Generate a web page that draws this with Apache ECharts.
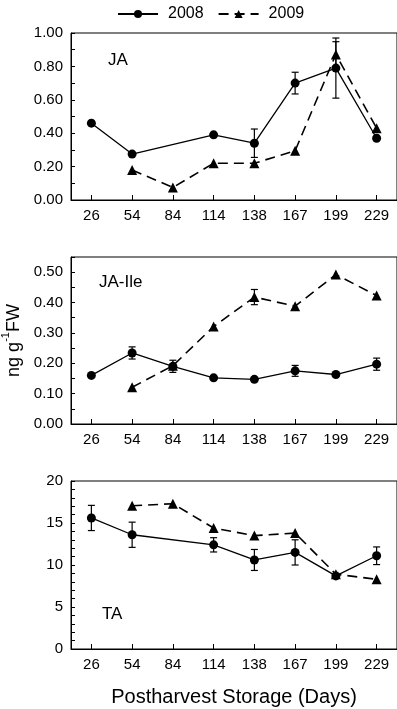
<!DOCTYPE html>
<html>
<head>
<meta charset="utf-8">
<script src="https://cdn.jsdelivr.net/npm/echarts@6/dist/echarts.min.js"></script>
<style>html,body{margin:0;padding:0;background:#fff;}#c{width:397px;height:709px;}</style>
</head>
<body>
<div id="c"></div>
<script>
var categories = ['26', '54', '84', '114', '138', '167', '199', '229'];

var JA2008 = [0.46, 0.275, null, 0.39, 0.34, 0.70, 0.79, 0.37];
var JA2009 = [null, 0.18, 0.075, 0.22, 0.22, 0.295, 0.872, 0.43];
var JAerr2008 = [0, 0, 0, 0, 0.085, 0.065, 0.18, 0];
var JAerr2009 = [0, 0, 0, 0, 0, 0, 0.076, 0];

var Ile2008 = [0.16, 0.234, 0.19, 0.152, 0.147, 0.175, 0.163, 0.197];
var Ile2009 = [null, 0.121, 0.192, 0.321, 0.418, 0.388, 0.492, 0.423];
var Ileerr2008 = [0, 0.02, 0.02, 0, 0, 0.018, 0, 0.02];
var Ileerr2009 = [0, 0, 0, 0, 0.025, 0, 0, 0];

var TA2008 = [15.6, 13.6, null, 12.4, 10.6, 11.5, 8.7, 11.1];
var TA2009 = [null, 17.05, 17.3, 14.4, 13.5, 13.8, 8.9, 8.3];
var TAerr2008 = [1.5, 1.5, 0, 0.85, 1.25, 1.5, 0, 1.05];
var TAerr2009 = [0, 0, 0, 0, 0, 0, 0, 0];

var yTicks = [
  {min: 0, max: 1, interval: 0.1, labelStep: 0.2, digits: 2},
  {min: 0, max: 0.55, interval: 0.05, labelStep: 0.1, digits: 2},
  {min: 0, max: 20, interval: 1, labelStep: 5, digits: 0}
];

var FONT = '"Liberation Sans", Arial, sans-serif';
var chart = echarts.init(document.getElementById('c'), null, {renderer: 'canvas'});

var grids = [
  {left: 71, right: 0, top: 33, height: 167},
  {left: 71, right: 0, top: 257, height: 167},
  {left: 71, right: 0, top: 481, height: 168}
];
grids.forEach(function (g) {
  g.show = true; g.borderColor = '#000'; g.borderWidth = 1; g.backgroundColor = 'transparent';
  g.containLabel = false; g.outerBoundsMode = 'none';
});

var xAxes = [], yAxes = [];
for (var i = 0; i < 3; i++) {
  var xa = {
    type: 'category', gridIndex: i, data: categories, boundaryGap: true,
    axisLine: {show: true, lineStyle: {color: '#000', width: 1}},
    axisTick: {show: true, inside: true, alignWithLabel: true, length: 5, lineStyle: {color: '#000'}},
    axisLabel: {color: '#000', fontSize: 15, fontFamily: FONT, margin: 8},
    splitLine: {show: false}
  };
  if (i === 2) {
    xa.name = 'Postharvest Storage (Days)';
    xa.nameLocation = 'middle';
    xa.nameGap = 38;
    xa.nameTextStyle = {color: '#000', fontSize: 20, fontFamily: FONT};
  }
  xAxes.push(xa);
  (function (t) {
    var ya = {
      type: 'value', gridIndex: i, min: t.min, max: t.max, interval: t.interval,
      axisLine: {show: true, lineStyle: {color: '#000', width: 1}},
      axisTick: {show: true, inside: true, length: 4, lineStyle: {color: '#000'}},
      axisLabel: {
        color: '#000', fontSize: 15, fontFamily: FONT, margin: 8,
        formatter: function (v) {
          var k = Math.round(v / t.labelStep * 1000) / 1000;
          if (Math.abs(k - Math.round(k)) > 1e-6) return '';
          return v.toFixed(t.digits);
        }
      },
      splitLine: {show: false}
    };
    if (i === 1) {
      ya.name = '{a|ng g}{s|-1}{a|FW}';
      ya.nameLocation = 'middle';
      ya.nameGap = 41;
      ya.nameTextStyle = {
        color: '#000', fontFamily: FONT,
        rich: {
          a: {fontSize: 18, fontFamily: FONT, color: '#000', lineHeight: 22, verticalAlign: 'bottom'},
          s: {fontSize: 11, fontFamily: FONT, color: '#000', lineHeight: 22, verticalAlign: 'top'}
        }
      };
    }
    yAxes.push(ya);
  })(yTicks[i]);
}

function errSeries(idx, means, errs) {
  var data = [];
  for (var j = 0; j < means.length; j++) {
    if (means[j] != null && errs[j]) data.push([j, means[j] - errs[j], means[j] + errs[j]]);
  }
  return {
    type: 'custom', xAxisIndex: idx, yAxisIndex: idx, z: 1, silent: true,
    data: data,
    renderItem: function (params, api) {
      var lo = api.coord([api.value(0), api.value(1)]);
      var hi = api.coord([api.value(0), api.value(2)]);
      var w = 3.5;
      var st = {stroke: '#000', lineWidth: 1.2};
      return {type: 'group', children: [
        {type: 'line', shape: {x1: lo[0], y1: lo[1], x2: hi[0], y2: hi[1]}, style: st},
        {type: 'line', shape: {x1: lo[0] - w, y1: lo[1], x2: lo[0] + w, y2: lo[1]}, style: st},
        {type: 'line', shape: {x1: hi[0] - w, y1: hi[1], x2: hi[0] + w, y2: hi[1]}, style: st}
      ]};
    }
  };
}

function lineSeries(idx, name, data) {
  var is08 = name === '2008';
  return {
    type: 'line', name: name, xAxisIndex: idx, yAxisIndex: idx, data: data,
    connectNulls: true, z: 3,
    symbol: is08 ? 'circle' : 'triangle',
    symbolSize: is08 ? 9 : 10,
    itemStyle: {color: '#000'},
    lineStyle: is08 ? {color: '#000', width: 1.3, type: 'solid'} : {color: '#000', width: 1.6, type: [10, 6]},
    emphasis: {disabled: true},
    animation: false
  };
}

var series = [
  lineSeries(0, '2008', JA2008), lineSeries(0, '2009', JA2009),
  errSeries(0, JA2008, JAerr2008), errSeries(0, JA2009, JAerr2009),
  lineSeries(1, '2008', Ile2008), lineSeries(1, '2009', Ile2009),
  errSeries(1, Ile2008, Ileerr2008), errSeries(1, Ile2009, Ileerr2009),
  lineSeries(2, '2008', TA2008), lineSeries(2, '2009', TA2009),
  errSeries(2, TA2008, TAerr2008), errSeries(2, TA2009, TAerr2009)
];

chart.setOption({
  animation: false,
  backgroundColor: '#fff',
  legend: {
    data: ['2008', '2009'], left: 112, top: 1,
    itemWidth: 40, itemHeight: 10, itemGap: 14,
    textStyle: {color: '#000', fontSize: 16, fontFamily: FONT, padding: [0, 0, 0, 5]},
    selectedMode: false
  },
  grid: grids,
  xAxis: xAxes,
  yAxis: yAxes,
  series: series,
  graphic: [
    {type: 'text', left: 108, top: 52, style: {text: 'JA', fontSize: 17, fontFamily: FONT, fill: '#000'}},
    {type: 'text', left: 99, top: 274, style: {text: 'JA-Ile', fontSize: 17, fontFamily: FONT, fill: '#000'}},
    {type: 'text', left: 102, top: 606, style: {text: 'TA', fontSize: 17, fontFamily: FONT, fill: '#000'}}
  ]
});
</script>
</body>
</html>
